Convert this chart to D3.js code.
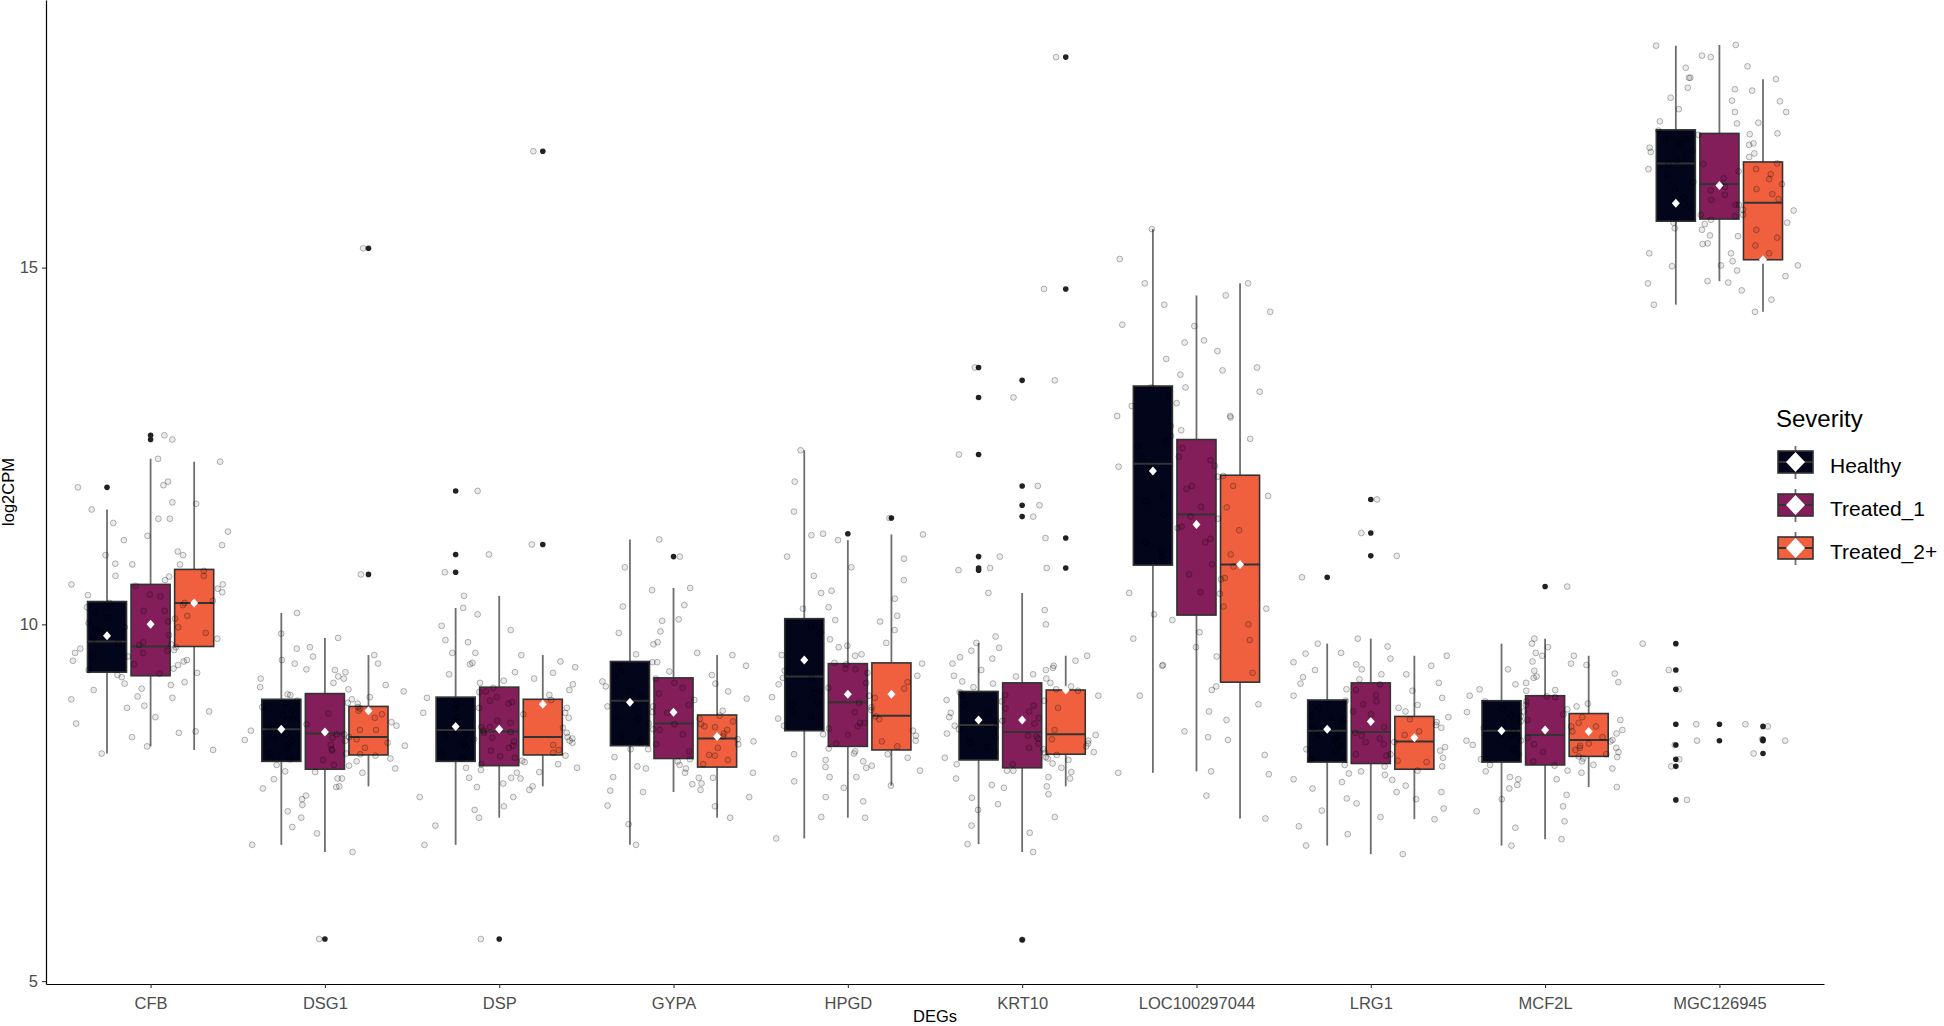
<!DOCTYPE html>
<html><head><meta charset="utf-8">
<script src="https://cdn.jsdelivr.net/npm/d3@7"></script>
<style>body{margin:0;background:#fff}svg{display:block}text{font-family:"Liberation Sans",Arial,sans-serif}</style>
</head><body><svg id="c" width="1944" height="1026"></svg>
<script>
const genes = ["CFB","DSG1","DSP","GYPA","HPGD","KRT10","LOC100297044","LRG1","MCF2L","MGC126945"];
const groups = ["Healthy","Treated_1","Treated_2+"];
const colors = ["#03051A","#841E5A","#F0603F"];
const yTicks = [5,10,15];

// box statistics per gene: [Healthy, Treated_1, Treated_2+]
const whiskerLow = [[8.19,8.29,8.24],[6.91,6.81,7.73],[6.91,7.29,7.73],[6.91,7.65,7.29],[7.00,7.29,7.74],[6.92,6.81,7.73],[7.92,7.94,7.28],[6.90,6.78,7.27],[6.90,6.99,7.72],[14.48,14.81,14.38]];
const q1 = [[9.33,9.28,9.69],[8.08,7.97,8.17],[8.08,8.02,8.17],[8.30,8.12,8.00],[8.51,8.29,8.24],[8.10,7.99,8.18],[10.83,10.13,9.19],[8.07,8.05,7.97],[8.07,8.03,8.15],[15.65,15.68,15.11]];
const median = [[9.76,9.69,10.30],[8.53,8.47,8.42],[8.52,8.50,8.42],[8.93,8.61,8.40],[9.27,8.91,8.72],[8.59,8.49,8.46],[12.25,11.54,10.84],[8.51,8.49,8.36],[8.51,8.45,8.38],[16.46,16.17,15.91]];
const q3 = [[10.32,10.56,10.77],[8.95,9.03,8.85],[8.98,9.12,8.95],[9.48,9.25,8.73],[10.08,9.45,9.46],[9.06,9.18,9.08],[13.34,12.59,12.09],[8.94,9.18,8.71],[8.93,9.00,8.75],[16.93,16.88,16.48]];
const whiskerHigh = [[11.61,12.32,12.28],[10.16,9.81,9.57],[10.23,10.40,9.57],[11.19,10.51,9.57],[12.44,11.18,11.26],[9.74,10.44,9.56],[15.54,14.61,14.78],[9.73,9.80,9.56],[9.73,9.80,9.56],[18.11,18.12,17.64]];
const means = [[9.84,10.00,10.30],[8.53,8.49,8.79],[8.57,8.53,8.88],[8.91,8.77,8.43],[9.50,9.02,9.02],[8.66,8.66,9.08],[12.15,11.40,10.84],[8.53,8.64,8.41],[8.51,8.52,8.50],[15.90,16.15,15.11]];

// individual samples (log2CPM) per gene: [Healthy, Treated_1, Treated_2+]
const CFB = [
 [8.19,8.42,8.61,8.83,8.95,9.08,9.17,9.29,9.36,9.44,9.49,9.55,9.6,9.66,9.71,9.75,9.8,9.88,9.93,10.02,10.09,10.17,10.24,10.3,10.41,10.56,10.68,10.84,10.97,11.18,11.42,11.61,11.92],
 [8.29,8.48,8.7,8.86,8.99,9.1,9.19,9.26,9.31,9.38,9.43,9.5,9.55,9.6,9.64,9.68,9.74,9.85,9.96,10.08,10.19,10.3,10.42,10.54,10.67,10.85,11.02,11.24,11.48,11.71,12.0,12.32,12.59,12.65],
 [8.24,8.5,8.78,8.97,9.15,9.32,9.48,9.63,9.72,9.8,9.88,9.96,10.04,10.12,10.19,10.27,10.33,10.39,10.45,10.5,10.56,10.62,10.68,10.75,10.84,10.97,11.11,11.3,11.48,11.69,11.95,12.28]];
const DSG1 = [
 [6.91,7.16,7.38,7.55,7.7,7.83,7.94,8.03,8.11,8.19,8.26,8.32,8.38,8.43,8.47,8.51,8.56,8.62,8.67,8.73,8.79,8.84,8.89,8.93,9.02,9.12,9.24,9.37,9.5,9.66,9.87,10.16],
 [5.59,6.81,7.07,7.29,7.47,7.6,7.72,7.84,7.93,8.02,8.1,8.18,8.25,8.31,8.37,8.42,8.46,8.52,8.6,8.68,8.75,8.82,8.89,8.95,9.01,9.09,9.18,9.27,9.36,9.45,9.55,9.68,9.81],
 [7.73,7.84,7.92,7.98,8.03,8.08,8.12,8.16,8.19,8.23,8.27,8.3,8.34,8.37,8.39,8.41,8.46,8.52,8.58,8.63,8.69,8.74,8.79,8.84,8.9,8.98,9.06,9.15,9.24,9.33,9.45,9.57,10.7,15.27]];
const DSP = [
 [6.91,7.18,7.4,7.58,7.72,7.85,7.96,8.04,8.12,8.2,8.27,8.33,8.39,8.44,8.48,8.51,8.56,8.63,8.7,8.76,8.82,8.88,8.93,8.97,9.06,9.18,9.3,9.44,9.6,9.78,9.98,10.23,10.73,10.98,11.87],
 [5.59,7.29,7.45,7.58,7.68,7.77,7.85,7.92,7.99,8.07,8.15,8.23,8.3,8.36,8.41,8.45,8.49,8.56,8.65,8.74,8.83,8.91,8.98,9.05,9.11,9.21,9.33,9.46,9.6,9.75,9.92,10.14,10.4],
 [7.73,7.84,7.93,7.99,8.04,8.09,8.13,8.16,8.2,8.24,8.27,8.31,8.34,8.37,8.4,8.42,8.48,8.55,8.62,8.69,8.76,8.83,8.89,8.94,9.01,9.08,9.16,9.24,9.32,9.4,9.48,9.57,11.12,16.63]];
const GYPA = [
 [6.91,7.2,7.46,7.67,7.86,8.01,8.14,8.25,8.35,8.44,8.53,8.61,8.69,8.77,8.85,8.91,8.98,9.06,9.13,9.2,9.27,9.34,9.41,9.47,9.58,9.72,9.88,10.05,10.25,10.48,10.8,11.19],
 [7.65,7.76,7.85,7.92,7.98,8.03,8.08,8.11,8.17,8.25,8.32,8.39,8.46,8.52,8.57,8.6,8.67,8.76,8.85,8.94,9.03,9.11,9.18,9.24,9.34,9.47,9.6,9.75,9.9,10.07,10.27,10.51,10.95],
 [7.29,7.45,7.58,7.68,7.77,7.85,7.92,7.98,8.04,8.1,8.16,8.22,8.27,8.32,8.36,8.39,8.43,8.47,8.52,8.56,8.6,8.64,8.68,8.72,8.79,8.87,8.96,9.06,9.17,9.29,9.42,9.57]];
const HPGD = [
 [7.0,7.3,7.58,7.8,8.0,8.18,8.33,8.46,8.58,8.68,8.78,8.88,8.98,9.07,9.16,9.25,9.35,9.46,9.57,9.68,9.79,9.89,9.98,10.06,10.22,10.44,10.68,10.95,11.25,11.58,12.0,12.44],
 [7.29,7.52,7.71,7.86,7.99,8.1,8.19,8.26,8.36,8.45,8.54,8.62,8.7,8.77,8.84,8.9,8.97,9.04,9.11,9.18,9.25,9.32,9.38,9.44,9.56,9.7,9.86,10.04,10.24,10.47,10.8,11.18,11.27],
 [7.74,7.86,7.95,8.02,8.08,8.13,8.18,8.22,8.29,8.37,8.44,8.51,8.57,8.62,8.67,8.71,8.8,8.9,9.0,9.1,9.19,9.28,9.37,9.45,9.58,9.74,9.92,10.12,10.36,10.62,10.92,11.26,11.49]];
const KRT10 = [
 [6.92,7.18,7.4,7.57,7.71,7.84,7.95,8.04,8.13,8.21,8.28,8.35,8.41,8.47,8.53,8.58,8.64,8.7,8.76,8.82,8.88,8.94,9.0,9.05,9.12,9.2,9.28,9.36,9.45,9.54,9.63,9.74,10.76,10.79,10.95,12.38,13.18,13.6],
 [5.58,6.81,7.08,7.3,7.48,7.62,7.75,7.86,7.95,8.04,8.12,8.2,8.27,8.33,8.39,8.44,8.48,8.56,8.65,8.74,8.83,8.92,9.01,9.09,9.17,9.27,9.39,9.52,9.67,9.83,10.0,10.2,10.44,11.51,11.67,11.94,13.42],
 [7.73,7.84,7.93,7.99,8.05,8.1,8.14,8.17,8.21,8.25,8.29,8.33,8.37,8.4,8.43,8.45,8.52,8.61,8.69,8.78,8.86,8.93,9.0,9.07,9.13,9.18,9.24,9.3,9.36,9.42,9.49,9.56,10.79,11.21,14.7,17.95]];
const LOC100297044 = [
 [7.92,8.5,9.0,9.42,9.8,10.14,10.44,10.7,10.95,11.15,11.35,11.54,11.72,11.9,12.06,12.21,12.35,12.5,12.64,12.78,12.92,13.06,13.2,13.32,13.5,13.72,13.95,14.2,14.48,14.78,15.12,15.54],
 [7.94,8.38,8.78,9.13,9.43,9.68,9.89,10.06,10.25,10.45,10.65,10.84,11.02,11.2,11.37,11.51,11.65,11.8,11.94,12.08,12.22,12.35,12.47,12.57,12.72,12.9,13.1,13.32,13.56,13.83,14.18,14.61],
 [7.28,7.6,7.9,8.17,8.42,8.66,8.88,9.08,9.32,9.55,9.78,10.0,10.22,10.43,10.63,10.81,10.98,11.15,11.32,11.48,11.64,11.8,11.94,12.07,12.3,12.6,12.92,13.26,13.6,13.98,14.38,14.78]];
const LRG1 = [
 [6.9,7.17,7.39,7.56,7.7,7.83,7.94,8.03,8.11,8.18,8.25,8.31,8.37,8.42,8.46,8.5,8.55,8.61,8.67,8.72,8.78,8.83,8.88,8.93,9.0,9.08,9.17,9.26,9.36,9.47,9.59,9.73,10.66],
 [6.78,7.06,7.3,7.49,7.65,7.79,7.91,8.01,8.09,8.16,8.23,8.29,8.35,8.4,8.44,8.48,8.56,8.65,8.74,8.83,8.92,9.01,9.09,9.16,9.23,9.3,9.37,9.44,9.52,9.6,9.69,9.8,10.96,11.28,11.75],
 [7.27,7.42,7.55,7.65,7.74,7.82,7.89,7.95,8.01,8.07,8.13,8.18,8.23,8.28,8.32,8.35,8.4,8.45,8.5,8.55,8.59,8.63,8.67,8.7,8.78,8.87,8.97,9.07,9.18,9.3,9.42,9.56]];
const MCF2L = [
 [6.9,7.15,7.38,7.55,7.7,7.83,7.94,8.03,8.11,8.18,8.25,8.31,8.37,8.42,8.46,8.5,8.55,8.61,8.66,8.72,8.77,8.82,8.87,8.92,9.0,9.09,9.18,9.27,9.37,9.48,9.6,9.73],
 [6.99,7.24,7.45,7.61,7.75,7.86,7.95,8.02,8.08,8.15,8.21,8.27,8.32,8.37,8.41,8.44,8.5,8.57,8.64,8.71,8.78,8.85,8.92,8.99,9.07,9.16,9.25,9.35,9.45,9.56,9.68,9.8,10.53],
 [7.72,7.83,7.92,7.98,8.03,8.08,8.12,8.14,8.18,8.21,8.24,8.27,8.3,8.33,8.36,8.38,8.42,8.47,8.52,8.57,8.62,8.66,8.7,8.74,8.81,8.89,8.98,9.08,9.19,9.31,9.43,9.56]];
const MGC126945 = [
 [7.54,8.01,8.11,8.31,8.6,9.09,9.36,9.73,14.48,14.78,15.02,15.2,15.34,15.45,15.55,15.63,15.74,15.86,15.98,16.09,16.2,16.3,16.38,16.45,16.5,16.56,16.62,16.68,16.74,16.8,16.86,16.92,17.05,17.22,17.38,17.52,17.66,17.8,17.95,18.11],
 [8.37,8.6,14.81,15.03,15.2,15.33,15.44,15.53,15.61,15.67,15.74,15.81,15.88,15.95,16.02,16.08,16.13,16.16,16.25,16.35,16.45,16.55,16.64,16.72,16.8,16.87,17.02,17.18,17.34,17.5,17.66,17.82,17.97,18.12],
 [8.19,8.37,8.39,8.57,14.38,14.55,14.68,14.79,14.88,14.96,15.03,15.09,15.2,15.31,15.42,15.53,15.63,15.72,15.8,15.88,15.96,16.03,16.1,16.17,16.24,16.31,16.38,16.46,16.6,16.74,16.88,17.03,17.18,17.33,17.48,17.64]];
const samples = [CFB, DSG1, DSP, GYPA, HPGD, KRT10, LOC100297044, LRG1, MCF2L, MGC126945];

const svg = d3.select("#c");
const L = 46, R = 1824, T = 0, B = 984;
const x = d3.scalePoint().domain(genes).range([L, R]).padding(0.6);
const y = d3.scaleLinear().domain([4.96, 18.75]).range([B, T]);
const step = x.step();
const dodge = step * 0.25;
const boxW = step * 0.224;
const jit = step * 0.21;
const hash = (a,b,c) => { const s = Math.sin(a*127.1 + b*311.7 + c*74.7) * 43758.5453; return s - Math.floor(s); };
const cx = (gi, k) => x(genes[gi]) + (k - 1) * dodge;

const gBox = svg.append("g"), gPts = svg.append("g"), gMean = svg.append("g");
genes.forEach((gname, gi) => {
  groups.forEach((grp, k) => {
    const c = cx(gi, k);
    gBox.append("line").attr("x1", c).attr("x2", c).attr("y1", y(whiskerHigh[gi][k])).attr("y2", y(q3[gi][k]))
      .attr("stroke", "#6e6e6e").attr("stroke-width", 1.8);
    gBox.append("line").attr("x1", c).attr("x2", c).attr("y1", y(q1[gi][k])).attr("y2", y(whiskerLow[gi][k]))
      .attr("stroke", "#6e6e6e").attr("stroke-width", 1.8);
    gBox.append("rect").attr("x", c - boxW/2).attr("width", boxW)
      .attr("y", y(q3[gi][k])).attr("height", y(q1[gi][k]) - y(q3[gi][k]))
      .attr("fill", colors[k]).attr("stroke", "#333").attr("stroke-width", 1.6);
    gBox.append("line").attr("x1", c - boxW/2).attr("x2", c + boxW/2).attr("y1", y(median[gi][k])).attr("y2", y(median[gi][k]))
      .attr("stroke", "#333").attr("stroke-width", 2);
    samples[gi][k].filter(v => v < whiskerLow[gi][k] || v > whiskerHigh[gi][k]).forEach(v => {
      gBox.append("circle").attr("cx", c).attr("cy", y(v)).attr("r", 2.8).attr("fill", "#222");
    });
    samples[gi][k].forEach((v, i) => {
      const off = (hash(gi + 1, k + 1, i + 1) - 0.5) * 2 * jit;
      gPts.append("circle").attr("cx", c + off).attr("cy", y(v)).attr("r", 2.9)
        .attr("fill", "rgba(0,0,0,0.08)").attr("stroke", "rgba(0,0,0,0.28)").attr("stroke-width", 1);
    });
    const my = y(means[gi][k]);
    gMean.append("path").attr("d", `M${c},${my-4.5}L${c+4},${my}L${c},${my+4.5}L${c-4},${my}Z`).attr("fill", "#fff");
  });
});

const gx = svg.append("g").attr("transform", `translate(0,${B})`)
  .call(d3.axisBottom(x).tickSize(4).tickPadding(5).tickSizeOuter(0));
gx.select(".domain").attr("stroke", "#000").attr("stroke-width", 1.2);
gx.selectAll(".tick line").attr("stroke", "#333").attr("stroke-width", 1.1);
gx.selectAll(".tick text").attr("fill", "#4d4d4d").style("font-size", "16.5px").attr("dy", "0.95em");
const gy = svg.append("g").attr("transform", `translate(${L},0)`)
  .call(d3.axisLeft(y).tickValues(yTicks).tickSize(4).tickPadding(4).tickSizeOuter(0));
gy.select(".domain").attr("stroke", "#000").attr("stroke-width", 1.2);
gy.selectAll(".tick line").attr("stroke", "#333").attr("stroke-width", 1.1);
gy.selectAll(".tick text").attr("fill", "#4d4d4d").style("font-size", "16.5px");

svg.append("text").attr("x", (L + R) / 2).attr("y", 1022).attr("text-anchor", "middle")
  .style("font-size", "16.5px").attr("fill", "#000").text("DEGs");
svg.append("text").attr("transform", `translate(14,${(T + B) / 2}) rotate(-90)`).attr("text-anchor", "middle")
  .style("font-size", "16.5px").attr("fill", "#000").text("log2CPM");

const lg = svg.append("g");
lg.append("text").attr("x", 1776).attr("y", 427).style("font-size", "24px").attr("fill", "#000").text("Severity");
groups.forEach((grp, k) => {
  const cy = 462 + k * 43, kx = 1795.5;
  lg.append("line").attr("x1", kx).attr("x2", kx).attr("y1", cy - 16).attr("y2", cy + 17)
    .attr("stroke", "#6e6e6e").attr("stroke-width", 1.8);
  lg.append("rect").attr("x", kx - 17.5).attr("y", cy - 11).attr("width", 35).attr("height", 22)
    .attr("fill", colors[k]).attr("stroke", "#333").attr("stroke-width", 1.6);
  lg.append("line").attr("x1", kx - 17.5).attr("x2", kx + 17.5).attr("y1", cy).attr("y2", cy)
    .attr("stroke", "#333").attr("stroke-width", 2);
  lg.append("path").attr("d", `M${kx},${cy-10}L${kx+9.5},${cy}L${kx},${cy+10}L${kx-9.5},${cy}Z`).attr("fill", "#fff");
  lg.append("text").attr("x", 1830).attr("y", cy + 11).style("font-size", "21px").attr("fill", "#000").text(grp);
});
</script></body></html>
